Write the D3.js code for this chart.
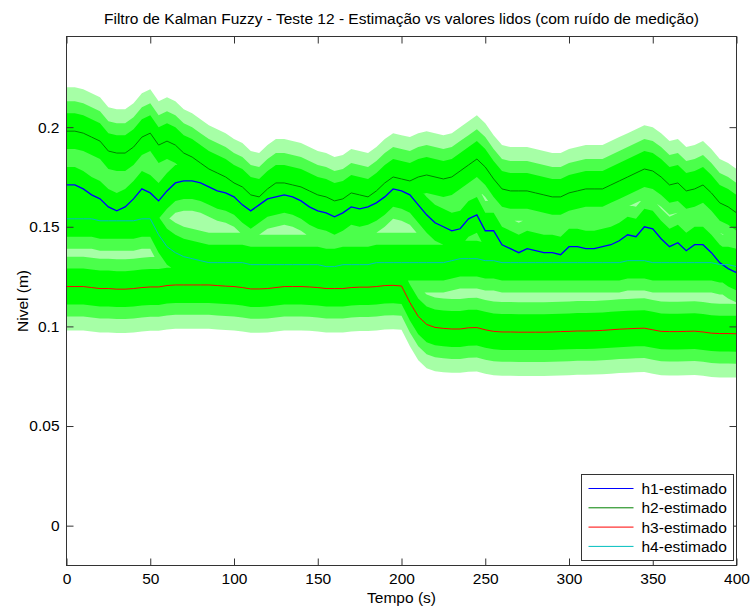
<!DOCTYPE html>
<html>
<head>
<meta charset="utf-8">
<script src="https://cdn.jsdelivr.net/npm/d3@7/dist/d3.min.js"></script>
<style>
  body { margin: 0; background: #fff; }
  svg { display: block; font-family: "Liberation Sans", Arial, sans-serif; }
</style>
</head>
<body>
<div id="bdy"></div>
<script>
var width = 751;
var height = 608;

// tempo (s) - amostras lidas a cada 5 s
var tempo = [0,5,10,15,20,25,30,35,40,45,50,55,60,65,70,75,80,85,90,95,
  100,105,110,115,120,125,130,135,140,145,150,155,160,165,170,175,180,185,190,195,
  200,205,210,215,220,225,230,235,240,245,250,255,260,265,270,275,280,285,290,295,
  300,305,310,315,320,325,330,335,340,345,350,355,360,365,370,375,380,385,390,395,400];

// niveis estimados (m)
var h1est = [.171,.171,.169,.166,.164,.160,.158,.160,.164,.169,.167,.163,.168,.172,.173,.173,.172,.170,.168,.167,
  .165,.161,.158,.161,.164,.165,.166,.165,.163,.160,.158,.157,.155,.157,.160,.159,.160,.162,.165,.169,
  .168,.166,.161,.156,.152,.150,.148,.149,.154,.156,.148,.148,.141,.139,.137,.139,.138,.137,.137,.136,
  .140,.140,.139,.139,.140,.141,.143,.146,.145,.150,.149,.144,.140,.142,.138,.141,.141,.137,.132,.129,.127];

var h2est = [.198,.198,.197,.195,.193,.188,.187,.187,.190,.195,.197,.191,.193,.191,.187,.185,.182,.179,.177,.175,
  .172,.170,.166,.165,.169,.172,.172,.171,.170,.168,.166,.165,.163,.164,.167,.166,.165,.168,.172,.175,
  .174,.173,.175,.176,.175,.174,.175,.178,.181,.184,.180,.174,.169,.168,.168,.168,.167,.166,.165,.165,
  .167,.168,.169,.169,.169,.171,.173,.175,.177,.179,.178,.175,.171,.172,.168,.169,.171,.167,.162,.160,.157];

var h3est = [.1200,.1200,.1200,.1195,.1190,.1190,.1187,.1187,.1190,.1195,.1198,.1198,.1205,.1208,.1208,.1208,.1208,.1208,.1205,.1202,
  .1200,.1195,.1188,.1188,.1190,.1195,.1200,.1200,.1200,.1198,.1195,.1190,.1190,.1190,.1195,.1197,.1197,.1200,.1205,.1206,
  .1203,.1120,.1050,.1010,.0995,.0990,.0987,.0987,.0993,.0994,.0983,.0975,.0972,.0972,.0971,.0971,.0971,.0971,.0972,.0974,
  .0975,.0977,.0977,.0978,.0980,.0983,.0986,.0988,.0990,.0991,.0983,.0975,.0974,.0974,.0975,.0976,.0972,.0966,.0964,.0964,.0963];

var h4est = [.154,.154,.154,.154,.153,.153,.153,.153,.153,.154,.154,.146,.140,.137,.135,.134,.133,.132,.132,.132,
  .132,.132,.131,.131,.131,.131,.131,.131,.131,.131,.131,.130,.130,.131,.131,.131,.131,.132,.132,.132,
  .132,.132,.132,.132,.132,.132,.133,.134,.134,.134,.133,.133,.132,.132,.132,.132,.132,.132,.132,.132,
  .132,.132,.132,.132,.132,.132,.132,.133,.133,.133,.132,.132,.132,.132,.132,.132,.132,.132,.131,.131,.130];

// faixas do ruido de medicao em torno do nivel (m), da mais densa a dos picos
var ruidoFaixa = [0.009, 0.015, 0.022];
var ruidoOpac = [1, 0.55, 0.35];

var series = ['h1-estimado', 'h2-estimado', 'h3-estimado', 'h4-estimado'];
var cores = ['#0000ff', '#008000', '#ff0000', '#00bfbf'];
var estimados = [h1est, h2est, h3est, h4est];

var xTicks = [0, 50, 100, 150, 200, 250, 300, 350, 400];
var yTicks = [0, 0.05, 0.1, 0.15, 0.2];

var titulo = 'Filtro de Kalman Fuzzy - Teste 12 - Estimação vs valores lidos (com ruído de medição)';

//========================================================================
//                      DRAW CHART
//========================================================================
var plot = {left: 66.5, right: 736.5, top: 36.5, bottom: 565.5};
var fs = '15.5px';

var svg = d3.select('#bdy').append('svg')
    .attr('width', width)
    .attr('height', height);

var xScale = d3.scaleLinear()
    .domain([0, 400])
    .range([plot.left, plot.right]);

var yScale = d3.scaleLinear()
    .domain([-0.02, 0.2455])
    .range([plot.bottom, plot.top]);

svg.append('defs').append('clipPath').attr('id', 'clip')
    .append('rect')
    .attr('x', plot.left).attr('y', plot.top)
    .attr('width', plot.right - plot.left)
    .attr('height', plot.bottom - plot.top);

var g = svg.append('g').attr('clip-path', 'url(#clip)');

// valores lidos (ruido) - cada faixa e a uniao das 4 series num so path
function faixa(arr, w) {
    return d3.area()
        .x(function(d, i) { return xScale(tempo[i]); })
        .y0(function(d) { return yScale(d - w); })
        .y1(function(d) { return yScale(d + w); })(arr);
}

for (var j = ruidoFaixa.length - 1; j >= 0; j--) {
    var dd = estimados.map(function(arr) { return faixa(arr, ruidoFaixa[j]); }).join(' ');
    g.append('path')
        .attr('d', dd)
        .attr('fill', '#00ff00')
        .attr('fill-rule', 'nonzero')
        .attr('fill-opacity', ruidoOpac[j]);
}

// linhas estimadas
var linha = d3.line()
    .x(function(d, i) { return xScale(tempo[i]); })
    .y(function(d) { return yScale(d); });

estimados.forEach(function(arr, k) {
    g.append('path')
        .attr('d', linha(arr))
        .attr('fill', 'none')
        .attr('stroke', cores[k])
        .attr('stroke-width', k == 0 ? 1.3 : 1);
});

// caixa dos eixos
var axisColor = '#333';
svg.append('rect')
    .attr('x', plot.left).attr('y', plot.top)
    .attr('width', plot.right - plot.left)
    .attr('height', plot.bottom - plot.top)
    .attr('fill', 'none')
    .attr('stroke', axisColor);

// eixo x (ticks para dentro, em baixo e em cima)
svg.append('g')
    .attr('transform', 'translate(0,' + plot.bottom + ')')
    .call(d3.axisBottom(xScale).tickValues(xTicks).tickSizeInner(-7).tickSizeOuter(0).tickPadding(7)
        .tickFormat(d3.format('d')))
    .call(function(a) {
        a.select('.domain').remove();
        a.selectAll('line').attr('stroke', axisColor);
        a.selectAll('text').style('font-size', fs).attr('fill', '#000');
    });

svg.append('g')
    .attr('transform', 'translate(0,' + plot.top + ')')
    .call(d3.axisTop(xScale).tickValues(xTicks).tickSizeInner(-7).tickSizeOuter(0).tickFormat(''))
    .call(function(a) {
        a.select('.domain').remove();
        a.selectAll('line').attr('stroke', axisColor);
    });

// eixo y
svg.append('g')
    .attr('transform', 'translate(' + plot.left + ',0)')
    .call(d3.axisLeft(yScale).tickValues(yTicks).tickSizeInner(-7).tickSizeOuter(0).tickPadding(7)
        .tickFormat(function(d) { return String(+d.toFixed(2)); }))
    .call(function(a) {
        a.select('.domain').remove();
        a.selectAll('line').attr('stroke', axisColor);
        a.selectAll('text').style('font-size', fs).attr('fill', '#000');
    });

svg.append('g')
    .attr('transform', 'translate(' + plot.right + ',0)')
    .call(d3.axisRight(yScale).tickValues(yTicks).tickSizeInner(-7).tickSizeOuter(0).tickFormat(''))
    .call(function(a) {
        a.select('.domain').remove();
        a.selectAll('line').attr('stroke', axisColor);
    });

// titulo e rotulos
svg.append('text')
    .attr('x', (plot.left + plot.right) / 2)
    .attr('y', 24)
    .attr('text-anchor', 'middle')
    .style('font-size', fs)
    .text(titulo);

svg.append('text')
    .attr('x', (plot.left + plot.right) / 2)
    .attr('y', 603)
    .attr('text-anchor', 'middle')
    .style('font-size', fs)
    .text('Tempo (s)');

svg.append('text')
    .attr('transform', 'translate(28,' + ((plot.top + plot.bottom) / 2) + ') rotate(-90)')
    .attr('text-anchor', 'middle')
    .style('font-size', fs)
    .text('Nivel (m)');

// legenda
var leg = svg.append('g').attr('transform', 'translate(581.5,474.5)');
leg.append('rect')
    .attr('width', 152).attr('height', 86)
    .attr('fill', '#fff')
    .attr('stroke', axisColor);

series.forEach(function(s, k) {
    var yy = 14 + k * 19.3;
    leg.append('line')
        .attr('x1', 7).attr('x2', 52)
        .attr('y1', yy).attr('y2', yy)
        .attr('stroke', cores[k]);
    leg.append('text')
        .attr('x', 60).attr('y', yy + 5.5)
        .style('font-size', fs)
        .text(s);
});
</script>
</body>
</html>
